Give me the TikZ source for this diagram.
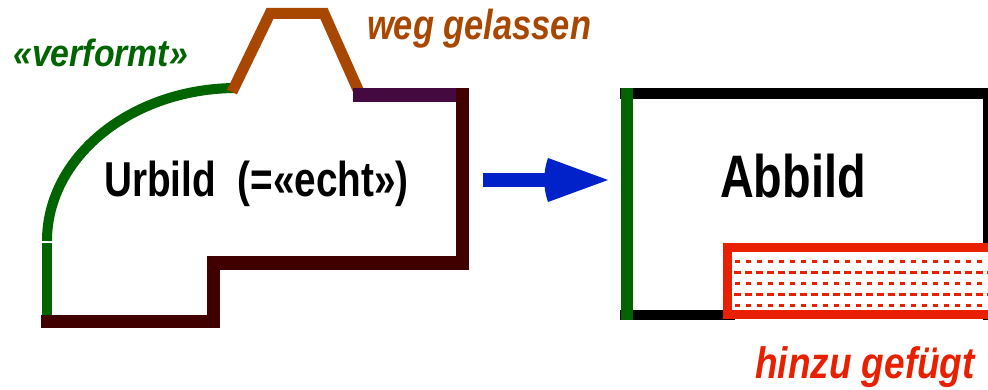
\documentclass[tikz,border=0pt]{standalone}
\usepackage{fontspec}
\usepackage{graphicx}
\setmainfont{Liberation Sans}
\definecolor{cgreen}{RGB}{0,100,0}
\definecolor{cbrown}{RGB}{64,0,0}
\definecolor{cpurple}{RGB}{68,10,64}
\definecolor{corange}{RGB}{168,72,0}
\definecolor{cred}{RGB}{232,32,0}
\definecolor{cblue}{RGB}{0,34,200}
\tikzset{
  lbl/.style={inner sep=0pt, anchor=base west},
  redash/.style={cred, line width=3pt, dash pattern=on 5pt off 6pt},
}
\begin{document}
\begin{tikzpicture}[x=1pt,y=-1pt]
\useasboundingbox (0,0) rectangle (988,390);
\clip (0,0) rectangle (988,390);
% left shape
\draw[cgreen, line width=10pt] (47,241) arc[start angle=180, end angle=270, x radius=190, y radius=153];
\draw[cgreen, line width=10pt] (47,243) -- (47,316);
\draw[corange, line width=11pt, line join=miter] (232,92) -- (270,13.5) -- (324,13.5) -- (359,92);
\draw[cpurple, line width=14pt] (353,95) -- (458,95);
\draw[cbrown, line width=13pt, line join=miter] (41,321.5) -- (213.5,321.5) -- (213.5,263) -- (462.5,263) -- (462.5,88);
% arrow
\fill[cblue] (483,173) rectangle (552,187);
\fill[cblue] (548,158) -- (608,180) -- (548,202) .. controls (543,188) and (543,172) .. (548,158) -- cycle;
% right box
\draw[black, line width=11pt] (620,93.5) -- (995,93.5);
\draw[black, line width=10pt] (988,88) -- (988,320);
\draw[black, line width=10pt] (620,315) -- (735,315);
\draw[cgreen, line width=12pt] (626.5,88) -- (626.5,320);
\filldraw[cred, fill=white, line width=9pt] (727.5,247.5) rectangle (995,314);
\draw[redash, opacity=0.4, line width=2pt] (735,251.5) -- (988,251.5);
\draw[redash] (735,261) -- (988,261);
\draw[redash, dash pattern=on 7pt off 4pt] (723,272) -- (988,272);
\draw[redash] (735,283) -- (988,283);
\draw[redash, dash pattern=on 7pt off 4pt] (723,294) -- (988,294);
\draw[redash] (735,305) -- (988,305);
% texts
\node[lbl, text=cgreen] (verf) at (13,67) {\scalebox{0.89}[1]{\fontsize{38}{40}\selectfont\bfseries\itshape «verformt»}};
\node[lbl, text=corange] (weg) at (367,40) {\scalebox{0.82}[1]{\fontsize{42}{44}\selectfont\bfseries\itshape weg gelassen}};
\node[lbl] (urbild) at (104,197) {\scalebox{0.79}[1]{\fontsize{49}{52}\selectfont\bfseries Urbild\ \ (=«echt»)}};
\node[lbl] (abbild) at (720,198) {\scalebox{0.78}[1]{\fontsize{60}{62}\selectfont\bfseries Abbild}};
\node[lbl, text=cred] (hinzu) at (755,378) {\scalebox{0.84}[1]{\fontsize{44}{46}\selectfont\bfseries\itshape hinzu gefügt}};
\end{tikzpicture}
\end{document}
